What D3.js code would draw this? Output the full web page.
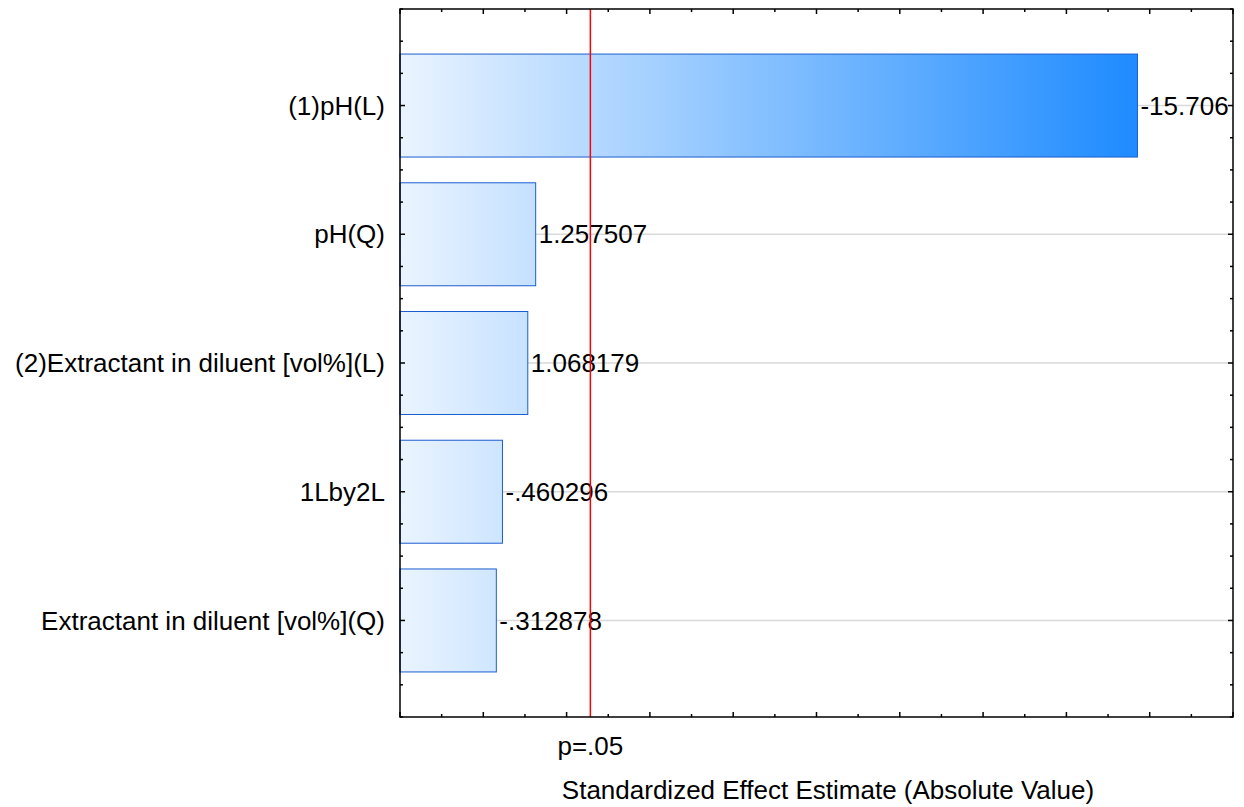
<!DOCTYPE html>
<html>
<head>
<meta charset="utf-8">
<script src="https://cdn.jsdelivr.net/npm/d3@7"></script>
<style>
  html, body { margin: 0; padding: 0; background: #fff; }
  svg { display: block; font-family: "Liberation Sans", Arial, sans-serif; }
</style>
</head>
<body>
<svg id="chart" width="1244" height="807"></svg>
<script>
// Pareto chart of standardized effects
const effects = ["(1)pH(L)", "pH(Q)", "(2)Extractant in diluent [vol%](L)", "1Lby2L", "Extractant in diluent [vol%](Q)"];
const estimates = [-15.706, 1.257507, 1.068179, -0.460296, -0.312878];
const valueLabels = ["-15.706", "1.257507", "1.068179", "-.460296", "-.312878"];
const pCritical = 2.5706;   // t(0.975, df = 5)
const pLabel = "p=.05";
const xTicks = [-2, 0, 2, 4, 6, 8, 10, 12, 14, 16, 18];
const xLabel = "Standardized Effect Estimate (Absolute Value)";

const svg = d3.select("#chart");
const m = { left: 400, right: 1233, top: 9, bottom: 717 };
const fontSize = 26;

const x = d3.scaleLinear().domain([-2, 18]).range([m.left, m.right]);
const y = d3.scaleLinear().domain([0.25, 5.75]).range([m.top, m.bottom]);
const idx = effects.map((_, i) => i + 1);
const barHalf = 0.4;

const maxAbs = d3.max(estimates, v => Math.abs(v));

// horizontal fill gradient, spread across the data range
const defs = svg.append("defs");
const grad = defs.append("linearGradient")
  .attr("id", "barFill")
  .attr("gradientUnits", "userSpaceOnUse")
  .attr("x1", x(-2)).attr("x2", x(maxAbs))
  .attr("y1", 0).attr("y2", 0);
grad.append("stop").attr("offset", 0).attr("stop-color", "#eaf4ff");
grad.append("stop").attr("offset", 1).attr("stop-color", "#1e8bff");

// grid lines at each effect
svg.append("g").selectAll("line")
  .data(idx)
  .join("line")
  .attr("x1", m.left).attr("x2", m.right)
  .attr("y1", d => y(d)).attr("y2", d => y(d))
  .attr("stroke", "#d9d9d9").attr("stroke-width", 1.5);

// bars
svg.append("g").selectAll("rect")
  .data(estimates)
  .join("rect")
  .attr("x", x(-2))
  .attr("y", (d, i) => y(i + 1 - barHalf))
  .attr("width", d => x(Math.abs(d)) - x(-2))
  .attr("height", y(1 + barHalf) - y(1 - barHalf))
  .attr("fill", "url(#barFill)")
  .attr("stroke", "#1c5dd0").attr("stroke-width", 1);

// value labels
svg.append("g").selectAll("text")
  .data(estimates)
  .join("text")
  .attr("x", d => x(Math.abs(d)) + 3)
  .attr("y", (d, i) => y(i + 1))
  .attr("dy", "0.35em")
  .attr("font-size", fontSize)
  .attr("fill", "#000")
  .text((d, i) => valueLabels[i]);

// critical value line
svg.append("line")
  .attr("x1", x(pCritical)).attr("x2", x(pCritical))
  .attr("y1", m.top).attr("y2", m.bottom)
  .attr("stroke", "#ff0000").attr("stroke-width", 1.5);

// category labels
svg.append("g").selectAll("text")
  .data(effects)
  .join("text")
  .attr("x", 385)
  .attr("y", (d, i) => y(i + 1))
  .attr("dy", "0.35em")
  .attr("text-anchor", "end")
  .attr("font-size", fontSize)
  .text(d => d);

// frame ticks
const majorX = xTicks;
const minorX = d3.range(-1, 18, 2);
const majorY = idx;
const minorY = d3.range(0.25, 5.76, 0.25).filter(v => Math.abs(v - Math.round(v)) > 1e-6);

const ticks = svg.append("g").attr("stroke", "#000").attr("stroke-width", 1.5);
[[majorX, 5], [minorX, 3]].forEach(([vals, len]) => {
  vals.forEach(v => {
    ticks.append("line").attr("x1", x(v)).attr("x2", x(v)).attr("y1", m.bottom).attr("y2", m.bottom - len);
    ticks.append("line").attr("x1", x(v)).attr("x2", x(v)).attr("y1", m.top).attr("y2", m.top + len);
  });
});
[[majorY, 5], [minorY, 3]].forEach(([vals, len]) => {
  vals.forEach(v => {
    ticks.append("line").attr("y1", y(v)).attr("y2", y(v)).attr("x1", m.left).attr("x2", m.left + len);
    ticks.append("line").attr("y1", y(v)).attr("y2", y(v)).attr("x1", m.right).attr("x2", m.right - len);
  });
});

// plot frame
svg.append("rect")
  .attr("x", m.left).attr("y", m.top)
  .attr("width", m.right - m.left).attr("height", m.bottom - m.top)
  .attr("fill", "none").attr("stroke", "#000").attr("stroke-width", 1.5);

// axis annotations
svg.append("text")
  .attr("x", x(pCritical)).attr("y", 755)
  .attr("text-anchor", "middle").attr("font-size", fontSize)
  .text(pLabel);

svg.append("text")
  .attr("x", 828).attr("y", 799)
  .attr("text-anchor", "middle").attr("font-size", fontSize)
  .text(xLabel);
</script>
</body>
</html>
